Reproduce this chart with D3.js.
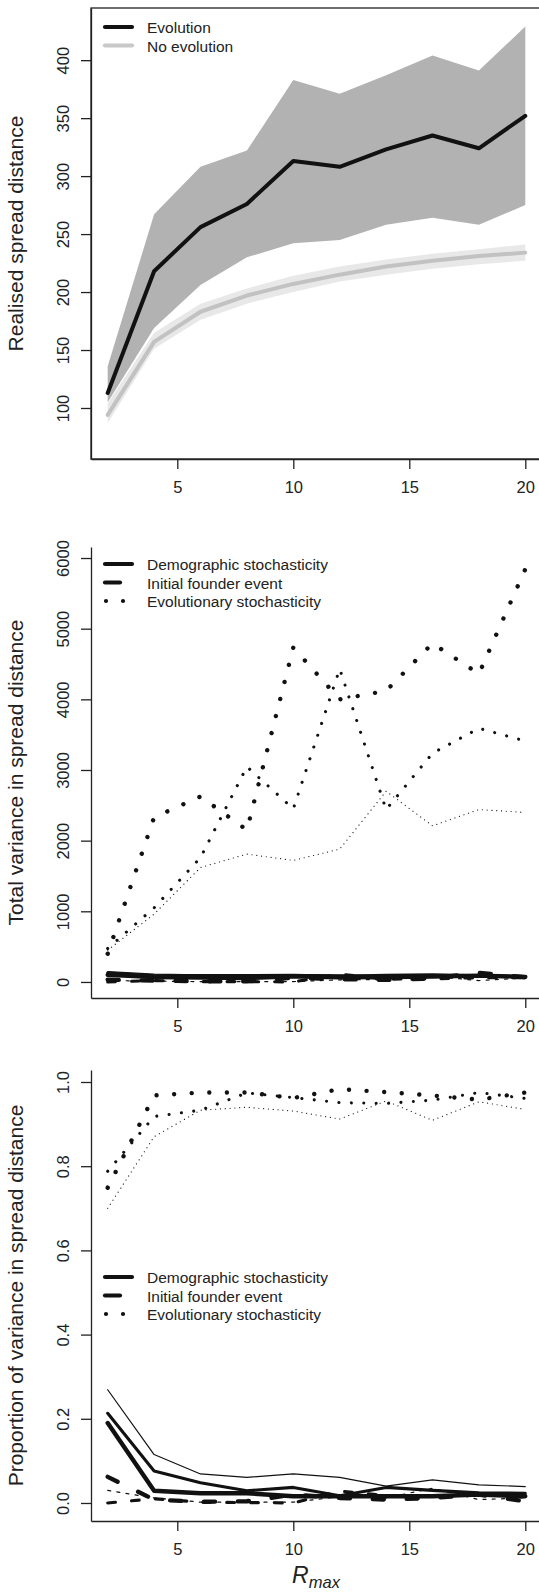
<!DOCTYPE html>
<html>
<head>
<meta charset="utf-8">
<script src="https://cdn.jsdelivr.net/npm/d3@7"></script>
<style>
  body { margin: 0; background: #fff; }
  svg { display: block; }
</style>
</head>
<body>
<svg id="chart" width="539" height="1594"></svg>
<script>
var rmax = [2, 4, 6, 8, 10, 12, 14, 16, 18, 20];
var xTicks = [5, 10, 15, 20];

// top panel: realised spread distance
var evoMean = [113, 218, 256, 276, 313, 308, 323, 335, 324, 352];
var evoUpper = [136, 267, 308, 322, 383, 371, 387, 404, 391, 429];
var evoLower = [105, 169, 206, 230, 242, 245, 258, 264, 258, 275];
var noEvoMean = [94, 157, 183, 197, 207, 215, 222, 227, 231, 234];
var noEvoUpper = [104, 165, 190, 203, 214, 222, 228, 233, 237, 241];
var noEvoLower = [87, 151, 176, 190, 200, 209, 215, 220, 224, 227];
var spreadTicks = [100, 150, 200, 250, 300, 350, 400];

// middle panel: total variance (thick / medium / thin runs)
var varDemoThick = [100, 70, 62, 55, 80, 65, 68, 78, 90, 72];
var varDemoMid = [125, 88, 90, 90, 95, 80, 95, 100, 88, 78];
var varDemoThin = [145, 110, 100, 95, 105, 100, 95, 105, 100, 82];
var varFounderThick = [33, 19, 10, 10, 60, 40, 30, 50, 130, 65];
var varFounderMid = [0, 20, 5, 5, 0, 110, 40, 45, 60, 60];
var varFounderThin = [20, 12, 5, 5, 5, 30, 35, 80, 20, 55];
var varEvoThick = [400, 2330, 2625, 2150, 4733, 4000, 4120, 4792, 4360, 5843];
var varEvoMid = [474, 1050, 1760, 3046, 2450, 4430, 2440, 3237, 3590, 3410];
var varEvoThin = [450, 960, 1620, 1810, 1720, 1880, 2700, 2210, 2440, 2400];
var varianceTicks = [0, 1000, 2000, 3000, 4000, 5000, 6000];

// bottom panel: proportion of variance
var propDemoThick = [0.190, 0.029, 0.023, 0.023, 0.016, 0.016, 0.016, 0.016, 0.020, 0.016];
var propDemoMid = [0.213, 0.076, 0.048, 0.029, 0.037, 0.017, 0.037, 0.030, 0.024, 0.023];
var propDemoThin = [0.269, 0.115, 0.069, 0.061, 0.069, 0.061, 0.040, 0.055, 0.043, 0.039];
var propFounderThick = [0.062, 0.008, 0.003, 0.004, 0.020, 0.012, 0.008, 0.012, 0.020, 0.004];
var propFounderMid = [0.000, 0.010, 0.002, 0.001, 0.000, 0.028, 0.018, 0.015, 0.020, 0.018];
var propFounderThin = [0.030, 0.012, 0.002, 0.002, 0.002, 0.015, 0.012, 0.035, 0.008, 0.012];
var propEvoThick = [0.749, 0.968, 0.975, 0.975, 0.962, 0.983, 0.976, 0.968, 0.958, 0.975];
var propEvoMid = [0.788, 0.918, 0.933, 0.974, 0.963, 0.951, 0.949, 0.957, 0.975, 0.961];
var propEvoThin = [0.700, 0.870, 0.933, 0.940, 0.931, 0.912, 0.955, 0.909, 0.953, 0.935];
var proportionTicks = [0, 0.2, 0.4, 0.6, 0.8, 1.0];

var spreadLegend = ['Evolution', 'No evolution'];
var sourceLegend = ['Demographic stochasticity', 'Initial founder event', 'Evolutionary stochasticity'];

var ink = '#222';
var fontFamily = '"Liberation Sans", Arial, Helvetica, sans-serif';
var tickFont = 16.5;
var legendFont = 15.5;
var titleFont = 21;
var widths = [4.4, 3.1, 1.2];

var svg = d3.select('#chart').style('font-family', fontFamily);
var x = d3.scaleLinear().domain([1.28, 20.72]).range([91, 542]);

function dashFor(kind, w) {
  if (kind === 'dotted') {
    return '0.01,' + (4 * w);
  }
  if (kind === 'dashed') {
    return (w * 2.5) + ',' + (w * 5.2);
  }
  return null;
}

function drawSeries(g, y, values, kind, w, color) {
  var line = d3.line()
    .x(function(d, i) { return x(rmax[i]); })
    .y(function(d) { return y(d); });
  g.append('path')
    .datum(values)
    .attr('d', line)
    .attr('fill', 'none')
    .attr('stroke', color || '#111')
    .attr('stroke-width', w)
    .attr('stroke-linecap', 'round')
    .attr('stroke-linejoin', 'round')
    .attr('stroke-dasharray', dashFor(kind, w));
}

function drawAxes(y, ticks, format, top, bottom, title, fullBox) {
  var xAxis = d3.axisBottom(x).tickValues(xTicks).tickSize(10).tickSizeOuter(0);
  var gx = svg.append('g')
    .attr('transform', 'translate(0,' + bottom + ')')
    .style('color', ink)
    .call(xAxis);
  gx.select('.domain').attr('stroke-width', 1.3);
  gx.selectAll('.tick line').attr('stroke-width', 1.3);
  gx.selectAll('.tick text')
    .attr('y', 34).attr('dy', 0)
    .attr('font-size', tickFont)
    .attr('font-family', fontFamily)
    .attr('fill', ink);

  var yAxis = d3.axisLeft(y).tickValues(ticks).tickFormat(format).tickSize(10).tickSizeOuter(0);
  var gy = svg.append('g')
    .attr('transform', 'translate(91,0)')
    .style('color', ink)
    .call(yAxis);
  gy.select('.domain').attr('stroke-width', 1.3);
  gy.selectAll('.tick line').attr('stroke-width', 1.3);
  gy.selectAll('.tick text')
    .attr('transform', 'rotate(-90)')
    .attr('x', 0).attr('y', -22).attr('dy', 0)
    .attr('text-anchor', 'middle')
    .attr('font-size', tickFont)
    .attr('font-family', fontFamily)
    .attr('fill', ink);

  if (fullBox) {
    svg.append('rect')
      .attr('x', 91).attr('y', top)
      .attr('width', 542 - 91).attr('height', bottom - top)
      .attr('fill', 'none')
      .attr('stroke', ink)
      .attr('stroke-width', 1.3);
  }

  svg.append('text')
    .attr('transform', 'translate(23,' + ((top + bottom) / 2) + ') rotate(-90)')
    .attr('text-anchor', 'middle')
    .attr('font-size', titleFont)
    .attr('fill', ink)
    .text(title);
}

function drawLegend(labels, kinds, colors, rowY) {
  var g = svg.append('g');
  labels.forEach(function(label, i) {
    var yy = rowY + i * 18.5;
    var kind = kinds[i];
    g.append('line')
      .attr('x1', kind === 'dotted' ? 106 : 105)
      .attr('x2', kind === 'solid' ? 132 : (kind === 'dotted' ? 124 : 120))
      .attr('y1', yy).attr('y2', yy)
      .attr('stroke', colors[i])
      .attr('stroke-width', 4.2)
      .attr('stroke-linecap', 'round')
      .attr('stroke-dasharray', kind === 'dotted' ? '0.01,17' : null);
    g.append('text')
      .attr('x', 147).attr('y', yy + 6)
      .attr('font-size', legendFont)
      .attr('fill', ink)
      .text(label);
  });
}

// ---- panel 1
var y1 = d3.scaleLinear().domain([56, 445]).range([459, 8]);
var g1 = svg.append('g');
var band = function(upper, lower) {
  return d3.area()
    .x(function(d, i) { return x(rmax[i]); })
    .y0(function(d, i) { return y1(lower[i]); })
    .y1(function(d, i) { return y1(upper[i]); });
};
g1.append('path').datum(rmax).attr('d', band(evoUpper, evoLower)).attr('fill', '#b2b2b3');
g1.append('path').datum(rmax).attr('d', band(noEvoUpper, noEvoLower)).attr('fill', '#e4e4e4').attr('fill-opacity', 0.85);
drawSeries(g1, y1, noEvoMean, 'solid', 4, '#c2c2c2');
drawSeries(g1, y1, evoMean, 'solid', 4, '#111');
drawAxes(y1, spreadTicks, d3.format('d'), 8, 459, 'Realised spread distance', true);
drawLegend(spreadLegend, ['solid', 'solid'], ['#111', '#c8c8c8'], 27);

// ---- panel 2
var y2 = d3.scaleLinear().domain([-227, 6156]).range([998, 547]);
var g2 = svg.append('g');
[varDemoThick, varDemoMid, varDemoThin].forEach(function(s, i) { drawSeries(g2, y2, s, 'solid', widths[i]); });
[varFounderThick, varFounderMid, varFounderThin].forEach(function(s, i) { drawSeries(g2, y2, s, 'dashed', widths[i]); });
[varEvoThick, varEvoMid, varEvoThin].forEach(function(s, i) { drawSeries(g2, y2, s, 'dotted', widths[i]); });
drawAxes(y2, varianceTicks, d3.format('d'), 547, 998, 'Total variance in spread distance', false);
drawLegend(sourceLegend, ['solid', 'dashed', 'dotted'], ['#111', '#111', '#111'], 564);

// ---- panel 3
var y3 = d3.scaleLinear().domain([-0.0428, 1.0285]).range([1521, 1070]);
var g3 = svg.append('g');
[propDemoThick, propDemoMid, propDemoThin].forEach(function(s, i) { drawSeries(g3, y3, s, 'solid', widths[i]); });
[propFounderThick, propFounderMid, propFounderThin].forEach(function(s, i) { drawSeries(g3, y3, s, 'dashed', widths[i]); });
[propEvoThick, propEvoMid, propEvoThin].forEach(function(s, i) { drawSeries(g3, y3, s, 'dotted', widths[i]); });
drawAxes(y3, proportionTicks, d3.format('.1f'), 1070, 1521, 'Proportion of variance in spread distance', false);
drawLegend(sourceLegend, ['solid', 'dashed', 'dotted'], ['#111', '#111', '#111'], 1277);

// x axis title
var xt = svg.append('text')
  .attr('x', 316).attr('y', 1583)
  .attr('text-anchor', 'middle')
  .attr('fill', ink)
  .attr('font-style', 'italic');
xt.append('tspan').attr('font-size', 23).text('R');
xt.append('tspan').attr('font-size', 16.5).attr('dy', 5).text('max');
</script>
</body>
</html>
